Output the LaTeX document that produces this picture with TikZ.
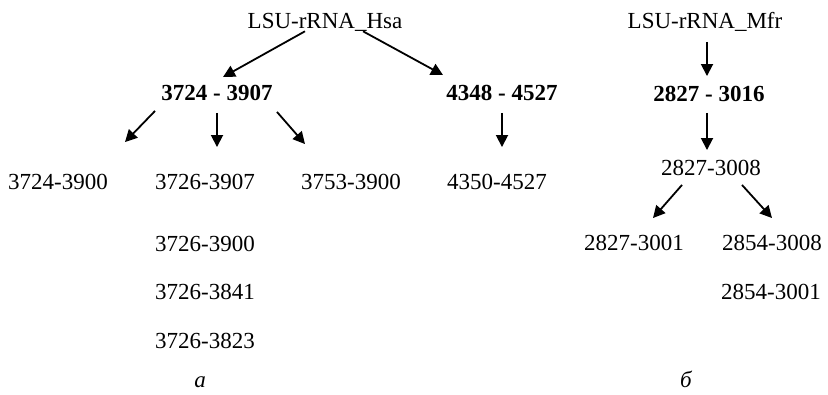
\documentclass[tikz,border=0pt]{standalone}
\usepackage{fontspec}
\setmainfont{Liberation Serif}
\usetikzlibrary{arrows.meta}
\begin{document}
\begin{tikzpicture}[x=1pt,y=1pt,
    lbl/.style={inner sep=0pt, font=\fontsize{23}{27}\selectfont},
    head/.style={lbl, font=\fontsize{23}{27}\selectfont\bfseries},
    arr/.style={line width=1.8pt, -{Triangle[length=12pt,width=12pt]}}]
  \useasboundingbox (0,0) rectangle (828,394);
  % tree for Hsa
  \node[lbl] (hsa) at (325,372) {LSU-rRNA\_Hsa};
  \node[head] (b1) at (217,301) {3724 - 3907};
  \node[head] (b2) at (502,301) {4348 - 4527};
  \node[lbl] (l1) at (58,212) {3724-3900};
  \node[lbl] (l2) at (205,212) {3726-3907};
  \node[lbl] (l3) at (351,212) {3753-3900};
  \node[lbl] (l4) at (497,212) {4350-4527};
  \node[lbl] (l5) at (205,150) {3726-3900};
  \node[lbl] (l6) at (205,102) {3726-3841};
  \node[lbl] (l7) at (205,53) {3726-3823};
  \node[lbl, font=\fontsize{23}{27}\selectfont\itshape] (ca) at (200,12) {а};
  \draw[arr] ([xshift=-20pt]hsa.south) -- ([xshift=6pt,yshift=8pt]b1.north);
  \draw[arr] ([xshift=38pt]hsa.south) -- ([xshift=-59pt,yshift=10pt]b2.north);
  \draw[arr] ([xshift=-62pt,yshift=-10pt]b1.south) -- ([xshift=67pt,yshift=32pt]l1.north);
  \draw[arr] ([xshift=0pt,yshift=-12pt]b1.south) -- ([xshift=12pt,yshift=27pt]l2.north);
  \draw[arr] ([xshift=60pt,yshift=-11pt]b1.south) -- ([xshift=-46pt,yshift=30pt]l3.north);
  \draw[arr] ([yshift=-12pt]b2.south) -- ([xshift=5pt,yshift=27pt]l4.north);
  % tree for Mfr
  \node[lbl] (mfr) at (705,372) {LSU-rRNA\_Mfr};
  \node[head] (m1) at (709,300) {2827 - 3016};
  \node[lbl] (m2) at (711,226) {2827-3008};
  \node[lbl] (n1) at (634,151) {2827-3001};
  \node[lbl] (n2) at (772,151) {2854-3008};
  \node[lbl] (n3) at (771,102) {2854-3001};
  \node[lbl, font=\fontsize{23}{27}\selectfont\itshape] (cb) at (686,15) {б};
  \draw[arr] ([xshift=2pt,yshift=-10pt]mfr.south) -- ([xshift=-2pt,yshift=10pt]m1.north);
  \draw[arr] ([xshift=-2pt,yshift=-11pt]m1.south) -- ([xshift=-4pt,yshift=10pt]m2.north);
  \draw[arr] ([xshift=-29pt,yshift=-9pt]m2.south) -- ([xshift=19pt,yshift=17pt]n1.north);
  \draw[arr] ([xshift=31pt,yshift=-9pt]m2.south) -- ([xshift=0pt,yshift=17pt]n2.north);
\end{tikzpicture}
\end{document}
